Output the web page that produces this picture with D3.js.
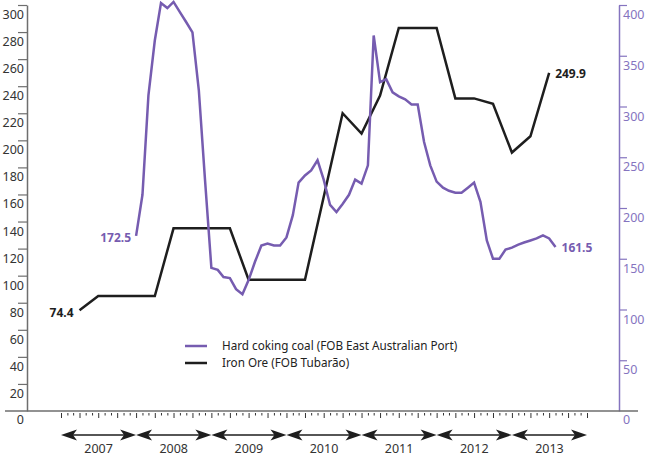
<!DOCTYPE html>
<html>
<head>
<meta charset="utf-8">
<script src="https://cdn.jsdelivr.net/npm/d3@7"></script>
<style>
  body { margin: 0; background: #fff; }
  svg text { font-family: "Noto Sans", "Open Sans", sans-serif; }
</style>
</head>
<body>
<div id="chart"></div>
<script>
// data
var years = ["2007", "2008", "2009", "2010", "2011", "2012", "2013"];

// Hard coking coal, monthly from Jan 2008 (right axis)
var coalStart = "2008-01";
var coalValues = [172.5, 213, 311, 365, 402, 397, 403, 393, 383, 373, 316, 228,
  141, 139, 132, 131, 120, 115, 129, 147, 163, 165, 163, 163,
  171, 193, 225, 232, 237, 247, 228, 203, 196, 204, 213, 228,
  224, 242, 370, 324, 327, 314, 310, 307, 302, 302, 265, 242,
  226, 220, 217, 215, 215, 220, 225, 206, 168, 150, 150, 159,
  161, 164, 166, 168, 170, 173, 170, 161.5];

// Iron ore (left axis)
var ironDates = ["2007-04", "2007-07", "2008-04", "2008-07", "2009-04", "2009-07",
  "2010-04", "2010-10", "2011-01", "2011-04", "2011-07", "2012-01", "2012-04",
  "2012-07", "2012-10", "2013-01", "2013-04", "2013-07"];
var ironValues = [74.4, 85, 85, 135, 135, 97, 97, 220, 205, 233, 283, 283, 231,
  231, 227, 191, 203, 249.9];

var leftTicks = [0, 20, 40, 60, 80, 100, 120, 140, 160, 180, 200, 220, 240, 260, 280, 300];
var rightTicks = [0, 50, 100, 150, 200, 250, 300, 350, 400];

var legendLabels = ["Hard coking coal (FOB East Australian Port)", "Iron Ore (FOB Tubarão)"];

var purple = "#765cb0";
var purpleText = "#8574bf";
var dark = "#1e1e1e";
var axisGrey = "#6e6e6e";

var width = 652, height = 457;
var parseMonth = d3.timeParse("%Y-%m");

var svg = d3.select("#chart").append("svg")
  .attr("width", width)
  .attr("height", height);

// scales
var x = d3.scaleTime()
  .domain([new Date(2007, 0, 1), new Date(2014, 0, 1)])
  .range([61, 587]);
var yL = d3.scaleLinear().domain([0, 300]).range([411, 5]);
var yR = d3.scaleLinear().domain([0, 400]).range([411, 5]);

var coalDates = d3.timeMonth.range(parseMonth(coalStart), new Date(2100, 0, 1)).slice(0, coalValues.length);
var coal = coalValues.map(function(v, i) { return { date: coalDates[i], value: v }; });
var iron = ironValues.map(function(v, i) { return { date: parseMonth(ironDates[i]), value: v }; });

// left axis
var leftAxis = svg.append("g")
  .attr("transform", "translate(27,0)")
  .call(d3.axisLeft(yL).tickValues(leftTicks).tickSize(9).tickSizeOuter(0).tickFormat(d3.format("d")));
leftAxis.select(".domain").attr("stroke", axisGrey).attr("stroke-width", 1.5);
leftAxis.selectAll(".tick line").attr("stroke", axisGrey).attr("stroke-width", 1.2)
  .filter(function(d) { return d === 0; }).remove();
leftAxis.selectAll(".tick text")
  .attr("x", -3).attr("dy", 0)
  .attr("y", function(d) { return d === 0 ? 12 : 13.5; })
  .attr("fill", "#333").style("font-size", "12.5px");

// right axis
var rightAxis = svg.append("g")
  .attr("transform", "translate(619,0)")
  .call(d3.axisRight(yR).tickValues(rightTicks).tickSize(8).tickSizeOuter(0));
rightAxis.select(".domain").attr("stroke", purpleText).attr("stroke-width", 1.5);
rightAxis.selectAll(".tick line").attr("stroke", purpleText).attr("stroke-width", 1.2)
  .filter(function(d) { return d === 0; }).remove();
rightAxis.selectAll(".tick text")
  .attr("x", 4).attr("dy", 0)
  .attr("y", function(d) { return d === 0 ? 12 : 13.5; })
  .attr("fill", purpleText).style("font-size", "12.5px");

// bottom baseline
svg.append("line")
  .attr("x1", 5).attr("x2", 638)
  .attr("y1", 411).attr("y2", 411)
  .attr("stroke", axisGrey).attr("stroke-width", 1.5);

// month ticks under the baseline
var monthAxis = svg.append("g")
  .attr("transform", "translate(0,413)")
  .call(d3.axisBottom(x).ticks(d3.timeMonth.every(1)).tickSize(3).tickSizeOuter(0).tickFormat(""));
monthAxis.select(".domain").remove();
monthAxis.selectAll(".tick line")
  .attr("stroke", "#333").attr("stroke-width", 1)
  .attr("y2", function(d) { return d.getMonth() % 3 === 0 ? 5 : 2.5; });

// year arrows
var arrowY = 435;
var yearG = svg.append("g");
years.forEach(function(yr) {
  var x0 = x(new Date(+yr, 0, 1)), x1 = x(new Date(+yr + 1, 0, 1));
  yearG.append("line")
    .attr("x1", x0 + 6).attr("x2", x1 - 6)
    .attr("y1", arrowY).attr("y2", arrowY)
    .attr("stroke", dark).attr("stroke-width", 1.5);
  yearG.append("path")
    .attr("d", "M" + x0 + "," + arrowY + "L" + (x0 + 16) + "," + (arrowY - 5.5) +
      "L" + (x0 + 12) + "," + arrowY + "L" + (x0 + 16) + "," + (arrowY + 5.5) + "Z")
    .attr("fill", dark);
  yearG.append("path")
    .attr("d", "M" + x1 + "," + arrowY + "L" + (x1 - 16) + "," + (arrowY - 5.5) +
      "L" + (x1 - 12) + "," + arrowY + "L" + (x1 - 16) + "," + (arrowY + 5.5) + "Z")
    .attr("fill", dark);
  yearG.append("text")
    .attr("x", (x0 + x1) / 2).attr("y", 453)
    .attr("text-anchor", "middle")
    .attr("fill", "#333").style("font-size", "12.5px")
    .text(yr);
});

// lines
var ironLine = d3.line()
  .x(function(d) { return x(d.date); })
  .y(function(d) { return yL(d.value); });
var coalLine = d3.line()
  .x(function(d) { return x(d.date); })
  .y(function(d) { return yR(d.value); });

svg.append("path").datum(iron)
  .attr("d", ironLine)
  .attr("fill", "none").attr("stroke", dark).attr("stroke-width", 2.5)
  .attr("stroke-linejoin", "miter");
svg.append("path").datum(coal)
  .attr("d", coalLine)
  .attr("fill", "none").attr("stroke", purple).attr("stroke-width", 2.5)
  .attr("stroke-linejoin", "miter");

// end labels
function endLabel(d, scale, dx, dy, anchor, color) {
  svg.append("text")
    .attr("x", x(d.date) + dx).attr("y", scale(d.value) + dy)
    .attr("text-anchor", anchor)
    .attr("fill", color)
    .style("font-size", "12px").style("font-weight", "bold")
    .text(d3.format(".1f")(d.value));
}
endLabel(iron[0], yL, -6, 7, "end", dark);
endLabel(iron[iron.length - 1], yL, 6, 5, "start", dark);
endLabel(coal[0], yR, -5, 6, "end", purple);
endLabel(coal[coal.length - 1], yR, 6, 5, "start", purple);

// legend
var legend = svg.append("g").attr("transform", "translate(185,346)");
[purple, dark].forEach(function(c, i) {
  legend.append("line")
    .attr("x1", 0).attr("x2", 22)
    .attr("y1", i * 17).attr("y2", i * 17)
    .attr("stroke", c).attr("stroke-width", 2.5);
  legend.append("text")
    .attr("x", 37).attr("y", i * 17 + 4)
    .attr("fill", "#222").style("font-size", "11.7px")
    .text(legendLabels[i]);
});
</script>
</body>
</html>
